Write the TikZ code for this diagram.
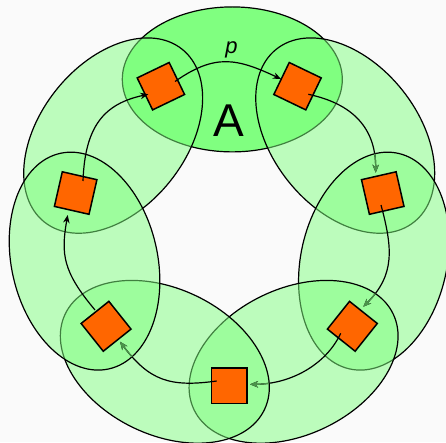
\documentclass[tikz,border=0pt]{standalone}
\usepackage{fontspec}
\setmainfont{Liberation Sans}
\usetikzlibrary{arrows.meta,calc}
\definecolor{ellgreen}{HTML}{80FF80}
\definecolor{sqorange}{HTML}{FF6600}
\definecolor{dimline}{HTML}{4A944A}
\definecolor{bg}{HTML}{FAFAFA}
\tikzset{
  ell/.style={draw=black, line width=1.2pt, fill=ellgreen, fill opacity=0.5, draw opacity=1},
  ellA/.style={draw=black, line width=1.2pt, fill=ellgreen},
  sq/.style={draw=black, line width=1.5pt, fill=sqorange, minimum width=35.5pt, minimum height=35.5pt, inner sep=0pt},
  arr/.style={draw=black, line width=1.2pt, -{Stealth[length=8pt,width=6.5pt,inset=2.5pt]}},
  dimarr/.style={draw=dimline, line width=1.2pt, -{Stealth[length=8pt,width=6.5pt,inset=2.5pt]}},
}
\begin{document}
\begin{tikzpicture}[x=1pt,y=1pt]
\path[fill=bg] (0,0) rectangle (446,442);
\useasboundingbox (0,0) rectangle (446,442);
\coordinate (C) at (229.2,213.9);
% ellipses
\draw[ellA] (232.3,362.6) ellipse [x radius=110, y radius=72.5];
\foreach \a in {141.43,38.57,-12.86,-64.29,-115.71,-167.14}{
  \draw[ell, shift={(C)}, rotate=\a-90] (0,148.4) ellipse [x radius=110.5, y radius=73];
}
% squares
\node[sq, rotate=-90]    (B)  at ($(C)+(-90:157.5)$) {};
\node[sq, rotate=-38.57] (LR) at ($(C)+(-38.57:157.5)$) {};
\node[sq, rotate=12.86]  (R)  at ($(C)+(12.86:157.5)$) {};
\node[sq, rotate=64.29]  (TR) at ($(C)+(64.29:157.5)$) {};
\node[sq, rotate=115.71] (TL) at ($(C)+(115.71:157.5)$) {};
\node[sq, rotate=167.14] (L)  at ($(C)+(167.14:157.5)$) {};
\node[sq, rotate=218.57] (LL) at ($(C)+(218.57:157.5)$) {};
% labels
\node[anchor=base, inner sep=0pt, font=\fontsize{46}{46}\selectfont] (lA) at (228.5,305.3) {A};
\node[anchor=base, inner sep=0pt, font=\fontsize{22}{22}\selectfont\itshape] (lp) at (231.5,388.9) {p};
% arrow end points
\coordinate (s1) at (175,360.5);   \coordinate (e1) at (281,363);
\coordinate (s2) at (308.3,347.7); \coordinate (e2) at (375.7,269.3);
\coordinate (s3) at (381,237);     \coordinate (e3) at (363.3,135.3);
\coordinate (s4) at (340.7,108.7); \coordinate (e4) at (250,57.7);
\coordinate (s5) at (216.7,61);    \coordinate (e5) at (120,100.3);
\coordinate (s6) at (95,132);      \coordinate (e6) at (67.7,227);
\coordinate (s7) at (83,261);      \coordinate (e7) at (148.3,347.7);
% arrows
\draw[arr] (s1) .. controls +(35:49) and +(155:49) .. (e1);
\draw[arr] (s2) .. controls +(-12:45) and +(90:45) .. (e2);
\draw[arr] (s3) .. controls +(-75:45) and +(45:45) .. (e3);
\draw[arr] (s4) .. controls +(-115:35) and +(0:40) .. (e4);
\draw[arr] (s5) .. controls +(188:48) and +(-53:48) .. (e5);
\draw[arr] (s6) .. controls +(130:50) and +(-100:40) .. (e6);
\draw[arr] (s7) .. controls +(88:55) and +(192:45) .. (e7);
% dimmed parts of arrows lying under the following ellipse
\begin{scope}
\clip[shift={(C)}, rotate=-12.86-90] (0,148.4) ellipse [x radius=110.5, y radius=73];
\draw[dimarr] (s2) .. controls +(-12:45) and +(90:45) .. (e2);
\end{scope}
\begin{scope}
\clip[shift={(C)}, rotate=-64.29-90] (0,148.4) ellipse [x radius=110.5, y radius=73];
\draw[dimarr] (s3) .. controls +(-75:45) and +(45:45) .. (e3);
\end{scope}
\begin{scope}
\clip[shift={(C)}, rotate=-115.71-90] (0,148.4) ellipse [x radius=110.5, y radius=73];
\draw[dimarr] (s4) .. controls +(-115:35) and +(0:40) .. (e4);
\end{scope}
\begin{scope}
\clip[shift={(C)}, rotate=-167.14-90] (0,148.4) ellipse [x radius=110.5, y radius=73];
\draw[dimarr] (s5) .. controls +(188:48) and +(-53:48) .. (e5);
\end{scope}
\end{tikzpicture}
\end{document}
